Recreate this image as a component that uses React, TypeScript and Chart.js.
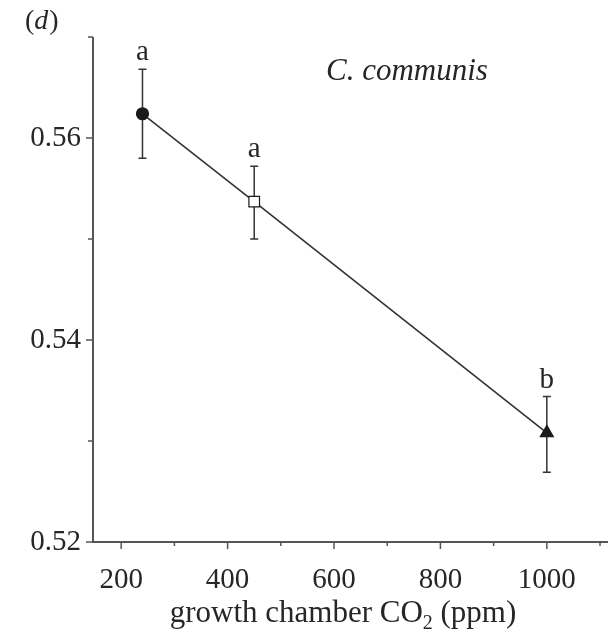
import React, { useEffect, useRef } from "react";
import { Chart, registerables } from "chart.js";

Chart.register(...registerables);

// ---- data ----
const co2Levels = [240, 450, 1000];
const meanValues = [0.5624, 0.5537, 0.5308];
const upperValues = [0.5668, 0.5572, 0.5344];
const lowerValues = [0.558, 0.55, 0.5269];
const groupLetters = ["a", "a", "b"];
const pointShapes = ["circle", "rect", "triangle"];
const pointFills = ["#1a1a1a", "#ffffff", "#1a1a1a"];
const pointSizes = [6, 7.5, 7.5];
const yLabelTicks = [0.52, 0.54, 0.56];
const xLabelTicks = [200, 400, 600, 800, 1000];
const panelLabel = "d";
const speciesName = "C. communis";
const xTitleMain = "growth chamber CO";
const xTitleSub = "2";
const xTitleTail = " (ppm)";

const FONT = "'Liberation Serif', 'Times New Roman', serif";
const INK = "#262626";
const AXIS = "#555555";

const near = (a: number, b: number) => Math.abs(a - b) < 1e-6;

const decorPlugin = {
  id: "decor",
  beforeDatasetsDraw(chart: any) {
    const { ctx, chartArea, scales } = chart;
    const x = scales.x;
    const y = scales.y;
    ctx.save();
    ctx.strokeStyle = AXIS;
    ctx.lineWidth = 2;
    // axes
    ctx.beginPath();
    ctx.moveTo(chartArea.left, chartArea.top);
    ctx.lineTo(chartArea.left, chartArea.bottom);
    ctx.lineTo(chartArea.right, chartArea.bottom);
    ctx.stroke();
    // y ticks
    ctx.lineWidth = 1.5;
    y.ticks.forEach((t: any) => {
      const py = y.getPixelForValue(t.value);
      const major = yLabelTicks.some((v) => near(v, t.value));
      const len = major ? 7 : 5;
      ctx.beginPath();
      ctx.moveTo(chartArea.left - len, py);
      ctx.lineTo(chartArea.left, py);
      ctx.stroke();
    });
    // x ticks
    x.ticks.forEach((t: any) => {
      const px = x.getPixelForValue(t.value);
      const major = xLabelTicks.some((v) => near(v, t.value));
      const len = major ? 7 : 4;
      ctx.beginPath();
      ctx.moveTo(px, chartArea.bottom);
      ctx.lineTo(px, chartArea.bottom + len);
      ctx.stroke();
    });
    // error bars
    ctx.strokeStyle = "#333333";
    ctx.lineWidth = 1.5;
    co2Levels.forEach((c, i) => {
      const px = x.getPixelForValue(c);
      const top = y.getPixelForValue(upperValues[i]);
      const bot = y.getPixelForValue(lowerValues[i]);
      ctx.beginPath();
      ctx.moveTo(px, top);
      ctx.lineTo(px, bot);
      ctx.moveTo(px - 4, top);
      ctx.lineTo(px + 4, top);
      ctx.moveTo(px - 4, bot);
      ctx.lineTo(px + 4, bot);
      ctx.stroke();
    });
    ctx.restore();
  },
  afterDraw(chart: any) {
    const { ctx, scales } = chart;
    const x = scales.x;
    const y = scales.y;
    ctx.save();
    ctx.fillStyle = INK;
    // letters
    ctx.font = `29px ${FONT}`;
    ctx.textAlign = "center";
    ctx.textBaseline = "alphabetic";
    co2Levels.forEach((c, i) => {
      const px = x.getPixelForValue(c);
      const top = y.getPixelForValue(upperValues[i]);
      ctx.fillText(groupLetters[i], px, top - 9);
    });
    // panel label (d)
    ctx.textAlign = "left";
    ctx.font = `28px ${FONT}`;
    let cx = 25;
    const by = 29;
    ctx.fillText("(", cx, by);
    cx += ctx.measureText("(").width;
    ctx.font = `italic 28px ${FONT}`;
    ctx.fillText(panelLabel, cx, by);
    cx += ctx.measureText(panelLabel).width + 1;
    ctx.font = `28px ${FONT}`;
    ctx.fillText(")", cx, by);
    // species name
    ctx.font = `italic 31px ${FONT}`;
    ctx.fillText(speciesName, 326, 80);
    // x axis title with subscript
    ctx.font = `31px ${FONT}`;
    const w1 = ctx.measureText(xTitleMain).width;
    const w3 = ctx.measureText(xTitleTail).width;
    ctx.font = `20px ${FONT}`;
    const w2 = ctx.measureText(xTitleSub).width;
    const total = w1 + w2 + w3;
    let tx = 343 - total / 2;
    const ty = 622;
    ctx.font = `31px ${FONT}`;
    ctx.fillText(xTitleMain, tx, ty);
    tx += w1;
    ctx.font = `20px ${FONT}`;
    ctx.fillText(xTitleSub, tx, ty + 7);
    tx += w2;
    ctx.font = `31px ${FONT}`;
    ctx.fillText(xTitleTail, tx, ty);
    ctx.restore();
  },
};

export default function App() {
  const canvasRef = useRef<HTMLCanvasElement | null>(null);

  useEffect(() => {
    document.body.style.margin = "0";
    const canvas = canvasRef.current;
    if (!canvas) return;
    const chart = new Chart(canvas, {
      type: "scatter",
      data: {
        datasets: [
          {
            data: co2Levels.map((c, i) => ({ x: c, y: meanValues[i] })),
            showLine: true,
            borderColor: "#333333",
            borderWidth: 1.6,
            pointStyle: pointShapes as any,
            pointRadius: pointSizes,
            pointBackgroundColor: pointFills,
            pointBorderColor: "#1a1a1a",
            pointBorderWidth: 1.2,
          },
        ],
      },
      options: {
        animation: false,
        responsive: false,
        events: [],
        layout: { autoPadding: false, padding: { top: 37, right: 0, left: 0, bottom: 0 } },
        plugins: { legend: { display: false }, tooltip: { enabled: false } },
        scales: {
          x: {
            type: "linear",
            min: 147,
            max: 1115,
            grid: { display: false, drawTicks: false },
            border: { display: false },
            afterFit: (s: any) => {
              s.height = 97;
              s.paddingLeft = 0;
              s.paddingRight = 0;
            },
            ticks: {
              stepSize: 100,
              includeBounds: false,
              autoSkip: false,
              maxRotation: 0,
              padding: 21,
              color: INK,
              font: { family: FONT, size: 29 },
              callback: (v: any) =>
                xLabelTicks.some((t) => near(t, Number(v))) ? String(v) : "",
            },
          },
          y: {
            type: "linear",
            min: 0.52,
            max: 0.57,
            grid: { display: false, drawTicks: false },
            border: { display: false },
            afterFit: (s: any) => {
              s.width = 93;
              s.paddingTop = 0;
              s.paddingBottom = 0;
            },
            ticks: {
              stepSize: 0.01,
              autoSkip: false,
              padding: 12,
              color: INK,
              font: { family: FONT, size: 29 },
              callback: (v: any) =>
                yLabelTicks.some((t) => near(t, Number(v))) ? Number(v).toFixed(2) : "",
            },
          },
        },
      },
      plugins: [decorPlugin],
    });
    return () => chart.destroy();
  }, []);

  return (
    <div style={{ width: 608, height: 639, background: "#fff" }}>
      <canvas ref={canvasRef} width={608} height={639} />
    </div>
  );
}
